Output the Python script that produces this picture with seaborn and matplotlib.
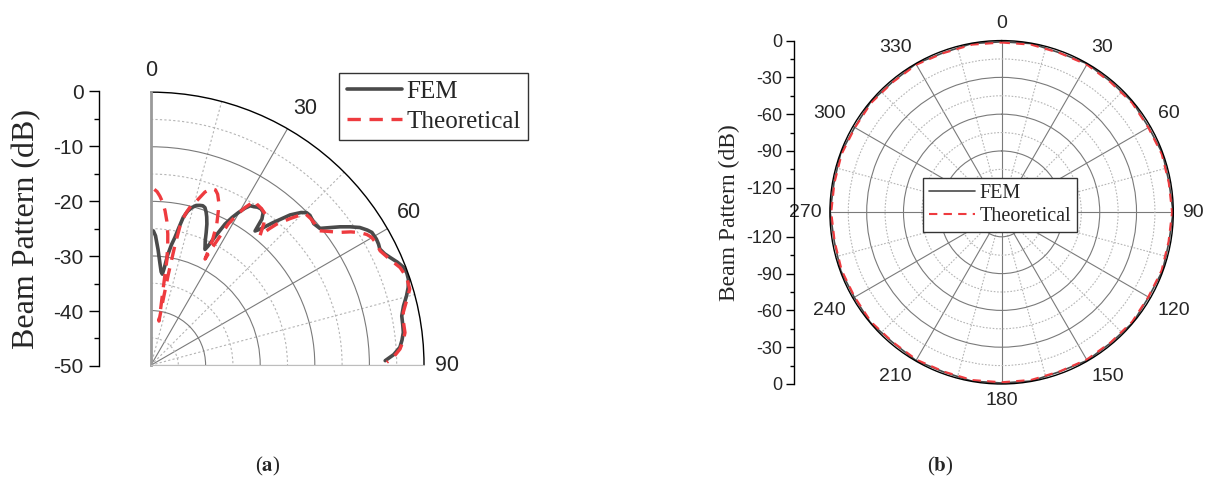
import numpy as np
import matplotlib
matplotlib.use("Agg")
import matplotlib.pyplot as plt
import seaborn as sns

# ---------------- data ----------------
# (a) quarter-plane beam pattern, theta in degrees, level in dB
fem_a_theta = [1.0, 2.0, 3.5, 5.1, 6.2, 7.1, 7.8, 8.6, 9.6, 10.6, 11.5, 12.3, 13.4, 14.5, 15.8,
               17.0, 18.0, 18.9, 19.8, 20.6, 21.6, 22.6, 23.6, 25.0, 25.6, 26.5, 27.7, 28.8,
               29.8, 30.9, 31.9, 33.0, 34.0, 35.2, 36.3, 37.2, 37.8, 38.8, 40.6, 42.8, 44.5,
               45.6, 46.7, 47.7, 49.0, 51.0, 52.5, 53.8, 55.2, 56.6, 58.0, 59.0, 60.8, 62.0,
               63.1, 64.5, 65.7, 67.3, 68.8, 70.2, 71.5, 73.2, 74.8, 76.8, 78.9, 80.8, 82.6,
               84.3, 85.9, 87.5, 88.9]
fem_a_db = [-25.4, -26.3, -28.8, -31.4, -32.8, -33.2, -32.0, -29.6, -27.7, -26.2, -24.2, -22.3, -21.0, -20.2, -19.6,
            -19.4, -19.3, -19.5, -20.2, -21.0, -22.2, -23.7, -25.2, -26.6, -25.8, -23.7, -20.8, -19.1,
            -17.8, -16.5, -15.6, -15.4, -15.1, -15.0, -15.3, -16.4, -18.9, -18.0, -15.6, -12.5, -10.8,
            -10.1, -10.0, -10.2, -10.5, -10.2, -8.6, -7.1, -5.6, -4.2, -3.3, -2.8, -2.7, -2.8,
            -3.0, -2.6, -2.0, -1.1, -0.4, -0.2, -0.3, -0.8, -1.5, -2.5, -3.2, -3.3, -3.4,
            -3.8, -4.3, -5.5, -7.1]

theo_a_theta = [1.1, 2.0, 3.0, 4.1, 5.2, 6.3, 7.3, 8.0, 8.6, 9.0, 9.6, 10.2, 10.5, 10.8, 11.3,
                11.8, 12.8, 14.0, 15.5, 17.3, 18.9, 20.2, 21.3, 22.5, 23.6, 25.0, 26.2, 27.0,
                27.6, 28.7, 29.8, 30.8, 32.3, 33.3, 35.2, 37.1, 38.5, 40.1, 40.9, 41.7, 43.5,
                45.4, 47.5, 49.3, 51.2, 53.0, 54.9, 56.3, 57.6, 58.8, 59.9, 61.7, 63.5, 66.0,
                68.6, 71.0, 73.6, 76.0, 78.2, 80.5, 82.7, 84.5, 86.3, 88.0, 89.3]
theo_a_db = [-17.8, -18.2, -19.0, -20.1, -21.6, -23.5, -25.8, -28.0, -30.7, -35.6, -39.0, -41.8, -38.0, -33.0, -27.5,
             -23.9, -21.6, -20.0, -18.8, -16.8, -15.8, -15.8, -16.4, -17.6, -19.2, -21.5, -24.5, -28.2,
             -25.5, -20.5, -18.2, -16.4, -14.4, -14.7, -14.9, -15.3, -16.8, -19.0, -17.0, -15.4, -13.0,
             -10.4, -10.3, -10.4, -10.7, -9.3, -7.7, -6.0, -4.7, -3.8, -3.3, -3.1, -3.1, -2.2,
             -1.0, -0.5, -0.6, -1.8, -2.8, -3.1, -3.1, -3.6, -4.3, -5.5, -6.8]

# (b) full-circle beam pattern
b_theta = list(range(0, 361, 10))
fem_b_db = [-1.0, -0.3, -1.6, -0.2, -1.2, -0.4, -1.5, -0.3, -1.3, -0.2, -1.4, -0.4, -1.6, -0.2,
            -1.2, -0.5, -1.7, -0.3, -0.8, -0.2, -1.5, -0.4, -1.6, -0.2, -1.3, -0.5, -1.5, -0.2,
            -1.2, -0.3, -1.6, -0.4, -1.4, -0.2, -1.5, -0.3, -1.0]
theo_b_db = [-1.6, -1.2, -1.8, -1.0, -1.7, -1.2, -1.9, -1.1, -1.6, -1.0, -1.8, -1.2, -1.9, -1.1,
             -1.6, -1.3, -1.9, -1.2, -1.4, -1.1, -1.8, -1.2, -1.9, -1.0, -1.7, -1.3, -1.8, -1.1,
             -1.6, -1.2, -1.9, -1.2, -1.7, -1.0, -1.8, -1.2, -1.6]

a_theta_ticks = [0, 30, 60, 90]
a_theta_minor = [15, 45, 75]
a_r_ticks = [-40, -30, -20, -10]
a_r_minor = [-45, -35, -25, -15, -5]
a_scale_ticks = [-50, -40, -30, -20, -10, 0]

b_theta_ticks = list(range(0, 360, 30))
b_theta_minor = list(range(15, 360, 30))
b_r_ticks = [-120, -90, -60, -30]
b_r_minor = [-105, -75, -45, -15]
b_scale_labels = ['0', '-30', '-60', '-90', '-120', '-120', '-90', '-60', '-30', '0']
b_scale_pos = [140, 110, 80, 50, 20, -20, -50, -80, -110, -140]
b_scale_minor = [125, 95, 65, 35, -35, -65, -95, -125]

labels = ["FEM", "Theoretical"]

# ---------------- style ----------------
sns.set_theme(style="white")
plt.rcParams['font.family'] = ['Liberation Sans', 'DejaVu Sans']
plt.rcParams['mathtext.fontset'] = 'stix'
SERIF = ['Liberation Serif', 'DejaVu Serif']
FEM_C = '#4a4a4a'
THEO_C = '#ee3b3f'
GRID_SOLID = '#7a7a7a'
GRID_DOT = '#b5b5b5'


def align_theta_labels(ax, ticks):
    """Anchor angle labels on their inner corner, like the original software."""
    for deg, lab in zip(ticks, ax.xaxis.get_majorticklabels()):
        d = deg % 360
        if d == 0:
            ha, va = 'center', 'bottom'
        elif d == 180:
            ha, va = 'center', 'top'
        elif d < 180:
            ha = 'left'
            va = 'bottom' if d < 90 else ('center' if d == 90 else 'top')
        else:
            ha = 'right'
            va = 'top' if d < 270 else ('center' if d == 270 else 'bottom')
        lab.set_horizontalalignment(ha)
        lab.set_verticalalignment(va)


fig = plt.figure(figsize=(12.08, 4.86), dpi=100)

# ================= (a) =================
ax1 = fig.add_axes([0.125, 0.247, 0.226, 0.565], projection='polar')
ax1.set_theta_zero_location('N')
ax1.set_theta_direction(-1)
ax1.set_thetamin(0)
ax1.set_thetamax(90)
ax1.set_rlim(-50, 0)

sns.lineplot(x=np.deg2rad(fem_a_theta), y=fem_a_db, ax=ax1, sort=False, estimator=None,
             color=FEM_C, lw=2.6, label=labels[0])
sns.lineplot(x=np.deg2rad(theo_a_theta), y=theo_a_db, ax=ax1, sort=False, estimator=None,
             color=THEO_C, lw=2.4, label=labels[1])
ax1.lines[1].set_dashes([4, 2.6])
ax1.set_xlabel('')
ax1.set_ylabel('')

ax1.set_xticks(np.deg2rad(a_theta_ticks))
ax1.set_xticklabels([str(t) for t in a_theta_ticks], fontsize=15.5)
ax1.set_xticks(np.deg2rad(a_theta_minor), minor=True)
ax1.set_yticks(a_r_ticks)
ax1.set_yticklabels([])
ax1.set_yticks(a_r_minor, minor=True)
ax1.grid(True, which='major', color=GRID_SOLID, lw=0.8, ls='-')
ax1.grid(True, which='minor', color=GRID_DOT, lw=0.8, ls=(0, (2, 2)))
ax1.tick_params(axis='x', which='major', direction='in', length=6, width=1, color='black', pad=1)
ax1.tick_params(axis='x', which='minor', direction='in', length=3, width=1, color='black')
ax1.tick_params(axis='y', which='both', length=0)
align_theta_labels(ax1, a_theta_ticks)
ax1.spines['polar'].set_color('black')
ax1.spines['polar'].set_linewidth(1.0)
ax1.spines['start'].set_color('#9a9a9a')
ax1.spines['start'].set_linewidth(2.0)
ax1.spines['end'].set_color('#bdbdbd')
ax1.spines['end'].set_linewidth(0.8)
ax1.set_facecolor('white')

leg1 = ax1.legend(loc='upper left', bbox_to_anchor=(339 / 1208, 1 - 73 / 486),
                  bbox_transform=fig.transFigure, prop={'family': SERIF, 'size': 18},
                  frameon=True, fancybox=False, edgecolor='#333333', framealpha=1,
                  handlelength=2.2, borderpad=0.3, labelspacing=0.3, handletextpad=0.2,
                  borderaxespad=0)
leg1.get_frame().set_linewidth(1.0)

# radial scale for (a)
axs1 = fig.add_axes([99 / 1208, 0.247, 0.0005, 0.565])
axs1.set_ylim(-50, 0)
axs1.set_yticks(a_scale_ticks)
axs1.set_yticklabels([str(v) for v in a_scale_ticks], fontsize=15)
axs1.set_yticks(list(range(-45, 0, 10)), minor=True)
axs1.set_xticks([])
for s in ['top', 'right', 'bottom']:
    axs1.spines[s].set_visible(False)
axs1.spines['left'].set_color('black')
axs1.spines['left'].set_linewidth(1.0)
axs1.tick_params(axis='y', which='major', direction='out', length=7, width=1, color='black', pad=4, left=True)
axs1.tick_params(axis='y', which='minor', direction='out', length=3.5, width=1, color='black', left=True)
axs1.set_ylabel('Beam Pattern (dB)', family=SERIF, fontsize=23, labelpad=9)
axs1.patch.set_visible(False)

# ================= (b) =================
ax2 = fig.add_axes([0.687, 0.2099, 0.2843, 0.7066], projection='polar')
ax2.set_theta_zero_location('N')
ax2.set_theta_direction(-1)
ax2.set_rlim(-140, 0)

sns.lineplot(x=np.deg2rad(b_theta), y=fem_b_db, ax=ax2, sort=False, estimator=None,
             color=FEM_C, lw=1.2, label=labels[0])
sns.lineplot(x=np.deg2rad(b_theta), y=theo_b_db, ax=ax2, sort=False, estimator=None,
             color=THEO_C, lw=1.5, label=labels[1])
ax2.lines[1].set_dashes([4, 3])
ax2.set_xlabel('')
ax2.set_ylabel('')

ax2.set_xticks(np.deg2rad(b_theta_ticks))
ax2.set_xticklabels([str(t) for t in b_theta_ticks], fontsize=14)
ax2.set_xticks(np.deg2rad(b_theta_minor), minor=True)
ax2.set_yticks(b_r_ticks)
ax2.set_yticklabels([])
ax2.set_yticks(b_r_minor, minor=True)
ax2.grid(True, which='major', color=GRID_SOLID, lw=0.8, ls='-')
ax2.grid(True, which='minor', color=GRID_DOT, lw=0.8, ls=(0, (1.5, 1.5)))
ax2.tick_params(axis='x', which='major', direction='in', length=4, width=1, color='black', pad=-1)
ax2.tick_params(axis='x', which='minor', direction='in', length=0)
ax2.tick_params(axis='y', which='both', length=0)
align_theta_labels(ax2, b_theta_ticks)
ax2.spines['polar'].set_color('black')
ax2.spines['polar'].set_linewidth(1.0)
ax2.set_facecolor('white')

leg2 = ax2.legend(loc='upper left', bbox_to_anchor=(923 / 1208, 1 - 178 / 486),
                  bbox_transform=fig.transFigure, prop={'family': SERIF, 'size': 14.5},
                  frameon=True, fancybox=False, edgecolor='#333333', framealpha=1,
                  handlelength=2.3, borderpad=0.3, labelspacing=0.2, handletextpad=0.2,
                  borderaxespad=0)
leg2.get_frame().set_linewidth(1.0)

# radial scale for (b)
axs2 = fig.add_axes([794.3 / 1208, 0.2099, 0.0005, 0.7066])
axs2.set_ylim(-140, 140)
axs2.set_yticks(b_scale_pos)
axs2.set_yticklabels(b_scale_labels, fontsize=13)
axs2.set_yticks(b_scale_minor, minor=True)
axs2.set_xticks([])
for s in ['top', 'right', 'bottom']:
    axs2.spines[s].set_visible(False)
axs2.spines['left'].set_color('black')
axs2.spines['left'].set_linewidth(1.0)
axs2.tick_params(axis='y', which='major', direction='out', length=5.5, width=1, color='black', pad=3, left=True)
axs2.tick_params(axis='y', which='minor', direction='out', length=3, width=1, color='black', left=True)
axs2.set_ylabel('Beam Pattern (dB)', family=SERIF, fontsize=17, labelpad=5)
axs2.patch.set_visible(False)

# sub-captions
fig.text(268 / 1208, 1 - 466 / 486, r'($\mathbf{a}$)', ha='center', va='center',
         family=SERIF, fontsize=15)
fig.text(940 / 1208, 1 - 466 / 486, r'($\mathbf{b}$)', ha='center', va='center',
         family=SERIF, fontsize=15)

fig.savefig('out.png', dpi=100, facecolor='white')
